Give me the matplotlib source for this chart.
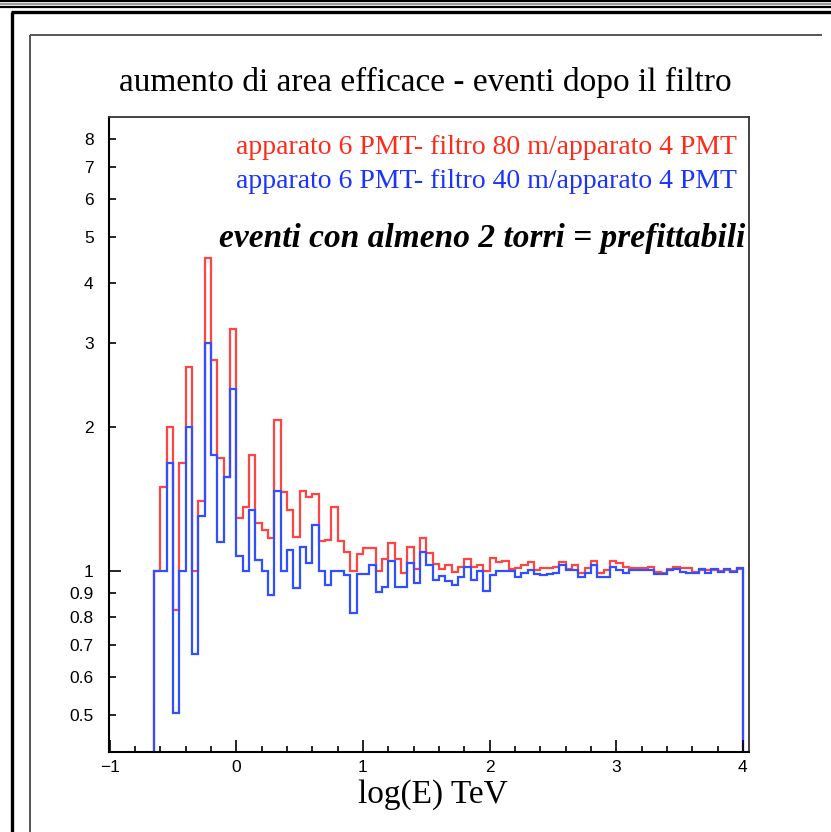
import numpy as np
import matplotlib
matplotlib.use("Agg")
import matplotlib.pyplot as plt
from matplotlib.ticker import FixedLocator, FuncFormatter, MultipleLocator
from matplotlib.lines import Line2D

# ---------------- data ----------------
bin_start = -0.65
bin_width = 0.05

ratio_80m = [1.0, 1.5, 2.0, 0.83, 1.68, 2.67, 1.0, 1.40, 4.52, 2.76,
             1.72, 1.57, 3.2, 1.29, 1.36, 1.75, 1.26, 1.22, 1.17, 2.07,
             1.46, 1.34, 1.18, 1.47, 1.43, 1.45, 1.155, 1.16, 1.36, 1.155,
             1.097, 1.0, 1.083, 1.118, 1.115, 1.0, 1.058, 1.146, 1.058, 0.99,
             1.12, 1.01, 1.17, 1.089, 1.034, 1.01, 1.03, 0.995, 1.02, 1.06,
             1.02, 1.03, 1.0, 1.065, 1.045, 1.05, 1.01, 1.013, 1.028, 1.045,
             1.005, 1.016, 1.013, 1.021, 1.043, 1.008, 1.029, 0.992, 1.013, 1.049,
             0.992, 1.005, 1.049, 1.038, 1.021, 1.016, 1.016, 1.016, 1.018, 0.997,
             0.992, 1.011, 1.021, 1.013, 1.013, 0.997, 1.005, 1.005, 1.005, 1.0,
             1.005, 1.0, 1.008]

ratio_40m = [1.0, 1.0, 1.68, 0.505, 1.0, 2.0, 0.671, 1.30, 3.0, 1.75,
             1.148, 1.57, 2.40, 1.075, 1.0, 1.34, 1.054, 1.0, 0.89, 1.47,
             1.0, 1.106, 0.92, 1.12, 1.04, 1.25, 1.0, 0.935, 1.0, 1.0,
             0.98, 0.818, 0.985, 0.985, 1.03, 0.905, 0.927, 1.05, 0.927, 0.927,
             1.04, 0.945, 1.097, 1.03, 0.957, 0.975, 0.954, 0.935, 0.973, 1.02,
             0.957, 1.0, 0.91, 0.98, 1.0, 1.0, 1.0, 0.973, 0.99, 1.005,
             0.986, 0.981, 0.986, 0.992, 1.029, 1.005, 1.005, 0.97, 0.989, 1.029,
             0.97, 0.97, 1.021, 1.005, 0.992, 1.005, 1.005, 1.005, 1.005, 0.986,
             0.986, 1.005, 1.008, 0.997, 0.992, 0.992, 1.008, 0.992, 1.008, 0.997,
             1.008, 0.997, 1.013]

y_minor_ticks = [0.5, 0.6, 0.7, 0.8, 0.9, 2, 3, 4, 5, 6, 7, 8]
y_major_ticks = [1]

title = "aumento di area efficace - eventi dopo il filtro"
label_red = "apparato 6 PMT- filtro 80 m/apparato 4 PMT"
label_blue = "apparato 6 PMT- filtro 40 m/apparato 4 PMT"
note = "eventi con almeno 2 torri = prefittabili"
xlabel = "log(E) TeV"

# ---------------- figure ----------------
W, H = 831, 832
fig = plt.figure(figsize=(W / 100, H / 100), dpi=100)
fig.patch.set_facecolor("white")

def fx(px):
    return px / W

def fy(py):
    return 1 - py / H

# window / pad borders
def hline(y, x0, x1, color, lw):
    fig.add_artist(Line2D([fx(x0), fx(x1)], [fy(y), fy(y)], color=color, lw=lw,
                          transform=fig.transFigure, solid_capstyle="butt"))

def vline(x, y0, y1, color, lw):
    fig.add_artist(Line2D([fx(x), fx(x)], [fy(y0), fy(y1)], color=color, lw=lw,
                          transform=fig.transFigure, solid_capstyle="butt"))

hline(1.2, 0, W, "black", 1.6)
hline(3.8, 0, W, "#9a9a9a", 1.4)
hline(6.5, 0, W, "black", 1.6)
hline(12, 10.5, W, "black", 2.4)
vline(12, 12, H, "black", 2.4)
hline(34.5, 29.5, 822, "#555555", 1.4)
vline(30.5, 34.5, H, "#555555", 1.4)

ax = fig.add_axes([fx(109), fy(752), fx(749) - fx(109), fy(117) - fy(752)])

edges = bin_start + bin_width * np.arange(len(ratio_80m) + 1)

red_line = "#ff4444"
blue_line = "#3050ff"
ax.stairs(ratio_80m, edges, baseline=0.1, color=red_line, lw=1.6)
ax.stairs(ratio_40m, edges, baseline=0.1, color=blue_line, lw=1.6)

ax.set_yscale("log")
ax.set_xlim(-1.005, 4.048)
ax.set_ylim(0.4184, 8.89)

tick_font = "Liberation Sans"
ax.yaxis.set_major_locator(FixedLocator(y_major_ticks))
ax.yaxis.set_minor_locator(FixedLocator(y_minor_ticks))
fmt = FuncFormatter(lambda v, p: "%g" % v)
ax.yaxis.set_major_formatter(fmt)
ax.yaxis.set_minor_formatter(fmt)
ax.xaxis.set_major_locator(MultipleLocator(1))
ax.xaxis.set_minor_locator(MultipleLocator(0.2))

ax.tick_params(which="both", direction="in", top=False, right=False, width=1.2, color="black")
ax.tick_params(axis="y", which="major", length=8.6, pad=11, labelsize=12.5)
ax.tick_params(axis="y", which="minor", length=5, pad=11, labelsize=12.5)
ax.tick_params(axis="x", which="major", length=8.6, pad=6, labelsize=12.5)
ax.tick_params(axis="x", which="minor", length=4.5)
for lab in ax.get_xticklabels() + ax.get_yticklabels(which="both"):
    lab.set_fontfamily(tick_font)

for s in ["left", "bottom"]:
    ax.spines[s].set_linewidth(1.5)
    ax.spines[s].set_color("black")
for s in ["top", "right"]:
    ax.spines[s].set_linewidth(1.3)
    ax.spines[s].set_color("#333333")

serif = "Liberation Serif"
fig.text(fx(425), fy(82), title, ha="center", va="center", fontsize=24, family=serif)
fig.text(fx(737), fy(148), label_red, ha="right", va="center", fontsize=20,
         family=serif, color="#ff2a1a")
fig.text(fx(737), fy(181), label_blue, ha="right", va="center", fontsize=20,
         family=serif, color="#1a33ff")
fig.text(fx(745), fy(238), note, ha="right", va="center", fontsize=24,
         family=serif, weight="bold", style="italic", color="black")
fig.text(fx(433), fy(795), xlabel, ha="center", va="center", fontsize=24, family=serif)

fig.savefig("out.png", dpi=100, facecolor="white")
